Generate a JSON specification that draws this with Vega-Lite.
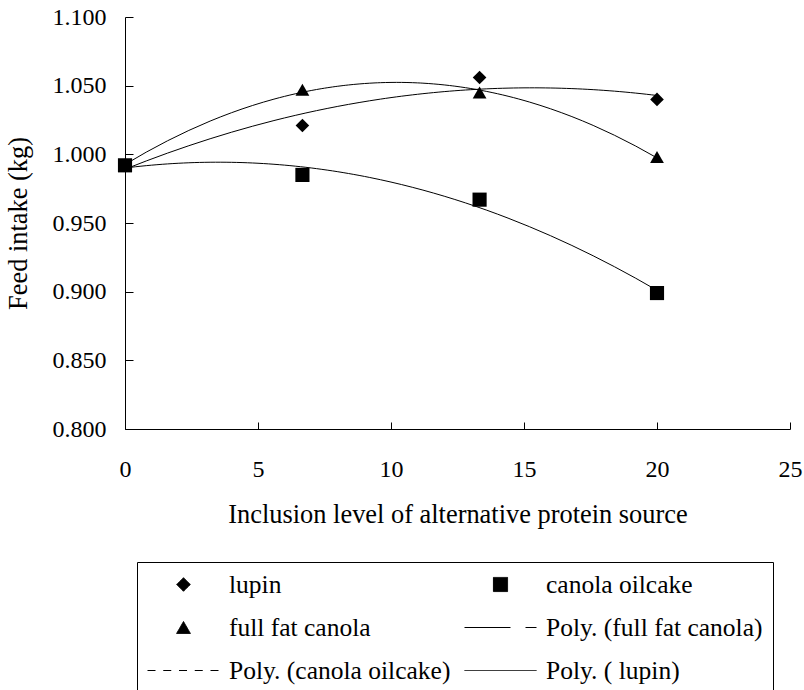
{
  "$schema": "https://vega.github.io/schema/vega-lite/v6.json",
  "width": 665,
  "height": 412,
  "autosize": {"type": "none"},
  "padding": {"left": 125, "top": 17, "right": 14, "bottom": 261},
  "background": "white",
  "config": {
    "font": "'Liberation Serif', 'Times New Roman', 'DejaVu Serif', serif",
    "view": {"stroke": null},
    "axis": {
      "grid": false,
      "domainColor": "black",
      "domainWidth": 1,
      "tickColor": "black",
      "tickWidth": 1,
      "labelColor": "black",
      "titleColor": "black",
      "labelFont": "'Liberation Serif', 'Times New Roman', 'DejaVu Serif', serif",
      "titleFont": "'Liberation Serif', 'Times New Roman', 'DejaVu Serif', serif",
      "labelFontSize": 24,
      "titleFontSize": 26.4,
      "titleFontWeight": "normal",
      "labelFlush": false,
      "labelOverlap": false
    },
    "legend": {
      "orient": "none",
      "legendX": 12,
      "legendY": 545,
      "columns": 2,
      "padding": 10,
      "strokeColor": "black",
      "labelFont": "'Liberation Serif', 'Times New Roman', 'DejaVu Serif', serif",
      "labelFontSize": 25.5,
      "labelColor": "black",
      "labelLimit": 400,
      "labelOffset": 9,
      "symbolOffset": 0,
      "rowPadding": 17,
      "columnPadding": 13,
      "clipHeight": 25,
      "symbolStrokeColor": "black",
      "symbolStrokeWidth": 1,
      "symbolFillColor": "black"
    }
  },
  "data": {
    "values": [
      {"series": "lupin", "level": 0, "intake": 0.992},
      {"series": "lupin", "level": 6.67, "intake": 1.021},
      {"series": "lupin", "level": 13.33, "intake": 1.056},
      {"series": "lupin", "level": 20, "intake": 1.040},
      {"series": "full fat canola", "level": 0, "intake": 0.992},
      {"series": "full fat canola", "level": 6.67, "intake": 1.047},
      {"series": "full fat canola", "level": 13.33, "intake": 1.045},
      {"series": "full fat canola", "level": 20, "intake": 0.998},
      {"series": "canola oilcake", "level": 0, "intake": 0.992},
      {"series": "canola oilcake", "level": 6.67, "intake": 0.985},
      {"series": "canola oilcake", "level": 13.33, "intake": 0.967},
      {"series": "canola oilcake", "level": 20, "intake": 0.899}
    ]
  },
  "encoding": {
    "x": {
      "field": "level",
      "type": "quantitative",
      "scale": {"domain": [0, 25], "nice": false, "zero": false},
      "axis": {
        "title": "Inclusion level of alternative protein source",
        "values": [0, 5, 10, 15, 20, 25],
        "format": "d",
        "tickSize": -7,
        "labelPadding": 35,
        "titlePadding": 20
      }
    },
    "y": {
      "field": "intake",
      "type": "quantitative",
      "scale": {"domain": [0.8, 1.1], "nice": false, "zero": false},
      "axis": {
        "title": "Feed intake (kg)",
        "values": [0.8, 0.85, 0.9, 0.95, 1.0, 1.05, 1.1],
        "format": ".3f",
        "tickSize": -8,
        "labelPadding": 27,
        "titlePadding": 20
      }
    }
  },
  "layer": [
    {
      "transform": [
        {"regression": "intake", "on": "level", "groupby": ["series"], "method": "poly", "order": 2, "extent": [0, 20]}
      ],
      "mark": {"type": "line", "color": "black", "strokeWidth": 1},
      "encoding": {
        "detail": {"field": "series", "type": "nominal"}
      }
    },
    {
      "mark": {"type": "point", "filled": true, "color": "black", "opacity": 1},
      "encoding": {
        "shape": {
          "field": "series",
          "type": "nominal",
          "scale": {
            "domain": ["lupin", "full fat canola", "Poly. (canola oilcake)", "canola oilcake", "Poly. (full fat canola)", "Poly. ( lupin)"],
            "range": ["diamond", "triangle-up", "stroke", "square", "stroke", "stroke"]
          },
          "legend": {
            "title": null,
            "symbolStrokeColor": "black",
            "labelExpr": "datum.label === 'lupin' ? '\u00a0lupin' : datum.label",
            "encoding": {
              "symbols": {"stroke": {"value": "black"}, "strokeWidth": {"value": 1}}
            }
          }
        },
        "size": {
          "field": "series",
          "type": "nominal",
          "scale": {
            "type": "ordinal",
            "domain": ["lupin", "full fat canola", "Poly. (canola oilcake)", "canola oilcake", "Poly. (full fat canola)", "Poly. ( lupin)"],
            "range": [185, 190, 5184, 200, 5184, 5184]
          },
          "legend": {"title": null}
        },
        "strokeDash": {
          "field": "series",
          "type": "nominal",
          "scale": {
            "domain": ["lupin", "full fat canola", "Poly. (canola oilcake)", "canola oilcake", "Poly. (full fat canola)", "Poly. ( lupin)"],
            "range": [[1, 0], [1, 0], [8, 7.75], [1, 0], [46, 15], [1, 0]]
          },
          "legend": {"title": null}
        }
      }
    }
  ]
}
